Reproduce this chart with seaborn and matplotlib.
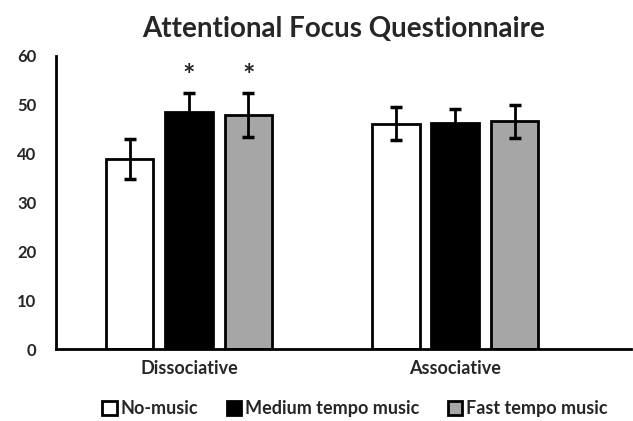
import pandas as pd
import matplotlib.pyplot as plt
import seaborn as sns

# values
focus = ['Dissociative', 'Associative']
groups = ['No-music', 'Medium tempo music', 'Fast tempo music']
no_music = [39.0, 46.1]
medium = [48.5, 46.3]
fast = [48.0, 46.6]
no_music_err = [4.1, 3.4]
medium_err = [3.9, 2.8]
fast_err = [4.5, 3.3]
colors = ['white', 'black', '#a6a6a6']

df = pd.DataFrame({
    'Focus': focus * 3,
    'Group': [g for g in groups for _ in focus],
    'Score': no_music + medium + fast,
    'Err': no_music_err + medium_err + fast_err,
})

sns.set_style('white')
plt.rcParams['font.family'] = ['Lato', 'DejaVu Sans']

fig = plt.figure(figsize=(6.33, 4.21), dpi=100)
ax = fig.add_axes([0.0885, 0.171, 0.908, 0.696])

sns.barplot(data=df, x='Focus', y='Score', hue='Group', order=focus, hue_order=groups,
            palette=colors, width=0.67, gap=0.2, errorbar=None,
            edgecolor='black', linewidth=2, ax=ax)

# error bars on each bar, plus asterisks
for i, g in enumerate(groups):
    cont = ax.containers[i]
    sub = df[df['Group'] == g].set_index('Focus').loc[focus]
    xs = [p.get_x() + p.get_width() / 2 for p in cont]
    ax.errorbar(xs, sub['Score'], yerr=sub['Err'], fmt='none', ecolor='black',
                elinewidth=2, capsize=4, capthick=2.5, zorder=5)
    if i > 0:
        ax.text(xs[0], 56.0, '*', ha='center', va='center', fontsize=21, fontweight='bold')

ax.set_ylim(0, 60)
ax.set_xlim(-0.5, 1.66)
ax.set_yticks(range(0, 61, 10))
ax.set_xlabel('')
ax.set_ylabel('')
for lab in ax.get_yticklabels():
    lab.set_fontweight('bold')
    lab.set_fontsize(12)
for lab in ax.get_xticklabels():
    lab.set_fontweight('bold')
    lab.set_fontsize(13)
ax.tick_params(axis='y', length=0, pad=14)
ax.tick_params(axis='x', length=0, pad=8)
sns.despine(ax=ax)
for s in ['left', 'bottom']:
    ax.spines[s].set_color('black')
    ax.spines[s].set_linewidth(2)

ax.set_title('Attentional Focus Questionnaire', fontsize=20, fontweight='bold', pad=14)

leg = ax.legend(loc='upper center', bbox_to_anchor=(0.52, -0.12), ncol=3, frameon=False,
                handlelength=0.8, handleheight=0.8, handletextpad=0.2, columnspacing=1.6,
                prop={'weight': 'bold', 'size': 13})
for h in leg.legend_handles:
    h.set_edgecolor('black')
    h.set_linewidth(2)

fig.savefig('out.png', dpi=100)
